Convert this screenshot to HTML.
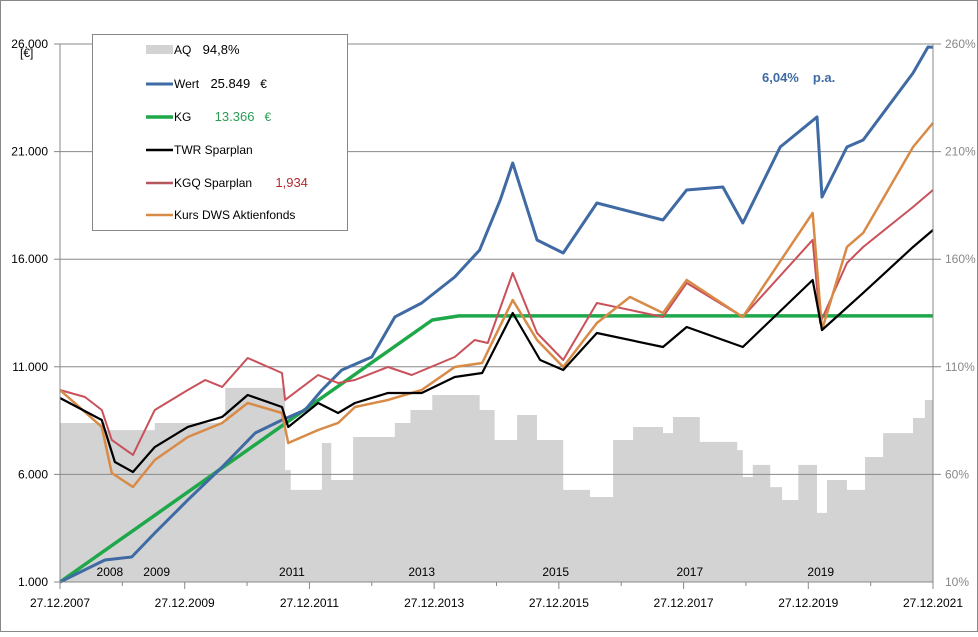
<!DOCTYPE html>
<html><head><meta charset="utf-8"><style>
body{margin:0;background:#fff}
svg text{font-family:"Liberation Sans",sans-serif}
</style></head><body>
<svg id="c" width="978" height="632" viewBox="0 0 978 632" xmlns="http://www.w3.org/2000/svg">
<rect x="0.5" y="0.5" width="977" height="631" fill="#fff" stroke="#888"/>
<g id="aq"></g>
<g id="grid"></g>
<g id="lines"></g>
<g id="axes"></g>
<text x="20" y="57" font-size="12">[€]</text>
<text x="762" y="82" font-size="13" font-weight="bold" fill="#3f6aa3" xml:space="preserve">6,04%<tspan dx="14">p.a.</tspan></text>
<g>
<rect x="92.5" y="34.5" width="255" height="196" fill="#fff" stroke="#888"/>
<rect x="146" y="45" width="27" height="9" fill="#d3d3d3"/>
<text x="174" y="54" font-size="12">AQ <tspan dx="8" font-size="13">94,8%</tspan></text>
<line x1="146" y1="84" x2="173" y2="84" stroke="#3f6aa3" stroke-width="3"/>
<text x="174" y="88" font-size="12">Wert <tspan dx="8" font-size="13">25.849</tspan><tspan dx="10">€</tspan></text>
<line x1="146" y1="117" x2="173" y2="117" stroke="#1fa84a" stroke-width="3.5"/>
<text x="174" y="121" font-size="12">KG <tspan dx="20" font-size="13" fill="#2a9d55">13.366</tspan><tspan dx="10" fill="#2a9d55">€</tspan></text>
<line x1="146" y1="150" x2="173" y2="150" stroke="#000" stroke-width="2.5"/>
<text x="174" y="154" font-size="12">TWR Sparplan</text>
<line x1="146" y1="183" x2="173" y2="183" stroke="#b5575c" stroke-width="2.5"/>
<text x="174" y="187" font-size="12">KGQ Sparplan <tspan dx="20" font-size="13" fill="#b22a2f">1,934</tspan></text>
<line x1="146" y1="215" x2="173" y2="215" stroke="#d88a47" stroke-width="2.5"/>
<text x="174" y="219" font-size="12">Kurs DWS Aktienfonds</text>
</g>
</svg>
<script>
const leftTicks=[1000,6000,11000,16000,21000,26000];
const leftTickLabels=["1.000","6.000","11.000","16.000","21.000","26.000"];
const rightTickLabels=["10%","60%","110%","160%","210%","260%"];
const xDateLabels=["27.12.2007","27.12.2009","27.12.2011","27.12.2013","27.12.2015","27.12.2017","27.12.2019","27.12.2021"];
const yearLabels=["2008","2009","2011","2013","2015","2017","2019"];
const yearLabelPos=[0.8,1.55,3.72,5.8,7.95,10.1,12.2];
const aqT=[0,0.72,1.52,2.65,3.61,3.7,4.2,4.35,4.7,5.37,5.62,5.97,6.73,6.97,7.33,7.65,8.07,8.5,8.87,9.19,9.67,9.83,10.26,10.86,10.95,11.11,11.39,11.58,11.84,12.14,12.3,12.62,12.91,13.2,13.68,13.87];
const aqPct=[83.9,80.6,83.9,100.2,62,52.8,74.6,57.4,77.4,83.9,89.9,96.9,89.9,76,87.6,76,52.8,49.5,76,82,79.2,86.7,75.1,71.3,58.8,64.4,54.1,48.1,64.4,42.1,57.4,52.8,68.1,79.2,86.2,94.6];
const kgT=[0,5.97,6.4,14];
const kgV=[1000,13175,13366,13366];
const wertT=[0,0.72,1.15,1.52,2.05,2.6,3.13,3.56,3.93,4.2,4.52,5.0,5.37,5.8,6.33,6.73,7.06,7.26,7.65,8.07,8.61,9.67,10.05,10.63,10.95,11.55,12.14,12.22,12.62,12.88,13.68,13.92,14];
const wertV=[1000,2022,2162,3277,4811,6344,7924,8528,8993,9922,10852,11456,13315,13965,15173,16428,18752,20471,16893,16289,18612,17822,19216,19356,17683,21214,22609,18891,21214,21540,24653,25861,25849];
const kgqT=[0,0.4,0.67,0.83,1.17,1.52,2.05,2.33,2.6,3.01,3.34,3.56,3.61,4.14,4.46,4.73,5.26,5.64,6.33,6.65,6.86,7.26,7.65,8.07,8.61,9.67,10.05,10.95,12.07,12.19,12.62,12.88,13.68,14];
const kgqV=[9922,9597,8993,7599,6902,8993,9922,10387,10062,11409,10991,10712,9458,10619,10247,10387,10991,10619,11456,12246,12107,15359,12571,11316,13965,13315,14895,13315,16893,13036,15824,16568,18426,19216];
const kursT=[0,0.67,0.83,1.17,1.52,2.05,2.6,3.01,3.56,3.66,4.14,4.46,4.73,5.26,5.8,6.33,6.77,7.26,7.65,8.07,8.61,9.14,9.67,10.05,10.95,12.07,12.22,12.62,12.88,13.68,14];
const kursV=[9922,8203,6065,5415,6669,7738,8389,9318,8853,7459,8063,8389,9132,9458,9922,10991,11177,14104,12246,10991,13036,14244,13500,15034,13315,18147,12710,16568,17218,21214,22330];
const twrT=[0,0.67,0.88,1.17,1.52,2.05,2.6,3.01,3.56,3.66,4.14,4.46,4.73,5.26,5.8,6.33,6.77,7.26,7.7,8.07,8.61,9.67,10.05,10.95,12.07,12.22,12.88,13.68,14];
const twrV=[9550,8528,6576,6112,7273,8203,8668,9690,9132,8203,9318,8853,9318,9783,9783,10526,10712,13500,11316,10852,12571,11920,12850,11920,15034,12710,14430,16568,17357];

const X0=60,X1=933,Y0=582,Y1=44,NS="http://www.w3.org/2000/svg";
const xs=t=>X0+(X1-X0)*t/14;
const yL=v=>Y0-(Y0-Y1)*(v-1000)/25000;
const yR=p=>Y0-(Y0-Y1)*(p-10)/250;
function mk(tag,attrs,parent){const e=document.createElementNS(NS,tag);for(const k in attrs)e.setAttribute(k,attrs[k]);parent.appendChild(e);return e;}
const gA=document.getElementById('aq'),gG=document.getElementById('grid'),gL=document.getElementById('lines'),gX=document.getElementById('axes');
let d=`M${xs(0)},${Y0}`;
aqT.forEach((t,i)=>{const tn=i<aqT.length-1?aqT[i+1]:14;d+=` L${xs(t)},${yR(aqPct[i])} L${xs(tn)},${yR(aqPct[i])}`;});
d+=` L${xs(14)},${Y0} Z`;
const area=mk('path',{d:d,fill:'#d3d3d3'},gA);


leftTicks.forEach((v,i)=>{
  const y=yL(v);
  if(i>0){const g=mk('line',{x1:X0,x2:X1+8,y1:y,y2:y,stroke:'#888','stroke-width':1},gG);
  
  }
  mk('line',{x1:X0-6,x2:X0,y1:y,y2:y,stroke:'#888'},gX);
  const t=mk('text',{x:X0-12,y:y+4,'font-size':12,'text-anchor':'end'},gX);t.textContent=leftTickLabels[i];
  
  
  const r=mk('text',{x:X1+12,y:y+4,'font-size':12,fill:'#888'},gX);r.textContent=rightTickLabels[i];
  
  
});
mk('line',{x1:X0,x2:X0,y1:Y1,y2:Y0,stroke:'#888'},gX);
mk('line',{x1:X1,x2:X1,y1:Y1,y2:Y0+6,stroke:'#888'},gX);
mk('line',{x1:X0,x2:X1,y1:Y0,y2:Y0,stroke:'#888'},gX);
for(let k=0;k<=14;k++){mk('line',{x1:xs(k),x2:xs(k),y1:Y0,y2:Y0+(k%2?4:7),stroke:'#888'},gX);}
xDateLabels.forEach((s,i)=>{const t=mk('text',{x:xs(i*2),y:607,'font-size':12,'text-anchor':'middle'},gX);t.textContent=s;
  
  });
yearLabels.forEach((s,i)=>{const t=mk('text',{x:xs(yearLabelPos[i]),y:576,'font-size':12,'text-anchor':'middle'},gX);t.textContent=s;
  
  });
function line(T,V,color,w,name){
  const p=mk('polyline',{points:T.map((t,i)=>xs(t)+','+yL(V[i])).join(' '),fill:'none',stroke:color,'stroke-width':w,'stroke-linejoin':'round'},gL);
  
  
}
line(kgT,kgV,'#1fa84a',3.5,'kg-line');
line(wertT,wertV,'#3f6aa3',3,'wert-line');
line(kgqT,kgqV,'#c9515a',2,'kgq-line');
line(kursT,kursV,'#d88a47',2.5,'kurs-line');
line(twrT,twrV,'#000',2.2,'twr-line');
</script>
</body></html>
